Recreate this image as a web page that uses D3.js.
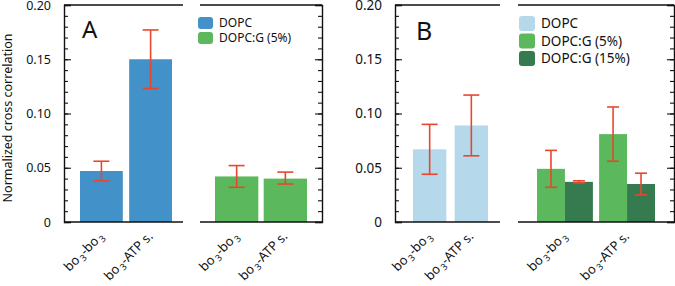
<!DOCTYPE html>
<html>
<head>
<meta charset="utf-8">
<script src="https://cdn.jsdelivr.net/npm/d3@7"></script>
<style>
  body { margin: 0; background: #fff; }
  text { font-family: "Noto Sans", "Open Sans", sans-serif; fill: #111; }
</style>
</head>
<body>
<div id="chart"></div>
<script>
// data
var categories = ["bo3-bo3", "bo3-ATP s."];
var yTicks = [0, 0.05, 0.10, 0.15, 0.20];
var yTickLabels = ["0", "0.05", "0.10", "0.15", "0.20"];

// panel A
var aDopc   = [0.047, 0.150];
var aDopcLo = [0.038, 0.123];
var aDopcHi = [0.056, 0.177];
var aG5     = [0.042, 0.040];
var aG5Lo   = [0.032, 0.035];
var aG5Hi   = [0.052, 0.046];

// panel B
var bDopc   = [0.067, 0.089];
var bDopcLo = [0.044, 0.061];
var bDopcHi = [0.090, 0.117];
var bG5     = [0.049, 0.081];
var bG5Lo   = [0.032, 0.056];
var bG5Hi   = [0.066, 0.106];
var bG15    = [0.037, 0.035];
var bG15Lo  = [0.036, 0.025];
var bG15Hi  = [0.038, 0.045];

var legendA = ["DOPC", "DOPC:G (5%)"];
var legendB = ["DOPC", "DOPC:G (5%)", "DOPC:G (15%)"];

var cBlue = "#4391c9", cGreen = "#5cb85c", cLight = "#b5d8ea", cDark = "#367a50", cErr = "#e8472e";

var w = 675, h = 286;
var svg = d3.select("#chart").append("svg")
    .attr("width", w)
    .attr("height", h);

var y = d3.scaleLinear().domain([0, 0.2]).range([222, 5]);
var minor = d3.range(0, 0.2001, 0.01);

function subText(sel, str, fs) {
    // the "3" after "bo" is a subscript
    var parts = str.split(/(3)/);
    parts.forEach(function(p) {
        if (p == "") return;
        if (p == "3") {
            sel.append("tspan").attr("dx", 1.5).attr("dy", 3).style("font-size", (fs * 0.72) + "px").text("3");
            sel.append("tspan").attr("dy", -3).text("\u200b");
        } else {
            sel.append("tspan").text(p);
        }
    });
}

// frame pieces of a sub panel
function frame(x0, x1, opts) {
    var g = svg.append("g");
    g.append("line").attr("x1", x0).attr("x2", x1).attr("y1", y(0)).attr("y2", y(0))
        .attr("stroke", "#111").attr("stroke-width", 1.4);
    g.append("line").attr("x1", x0).attr("x2", x1).attr("y1", y(0.2)).attr("y2", y(0.2))
        .attr("stroke", "#111").attr("stroke-width", 1.4);
    if (opts.left) {
        var ax = g.append("g").attr("transform", "translate(" + x0 + ",0)")
            .call(d3.axisLeft(y).tickValues(yTicks).tickSize(-7).tickPadding(13)
                .tickFormat(function(d, i) { return yTickLabels[i]; }));
        ax.selectAll("text").style("font-size", opts.fs + "px").attr("fill", "#111");
        g.append("g").attr("transform", "translate(" + x0 + ",0)")
            .call(d3.axisLeft(y).tickValues(minor).tickSize(-4).tickFormat(""))
            .select(".domain").remove();
    }
    if (opts.right) {
        g.append("g").attr("transform", "translate(" + x1 + ",0)")
            .call(d3.axisRight(y).tickValues(yTicks).tickSize(-7).tickFormat(""));
        g.append("g").attr("transform", "translate(" + x1 + ",0)")
            .call(d3.axisRight(y).tickValues(minor).tickSize(-4).tickFormat(""))
            .select(".domain").remove();
    }
    g.selectAll(".domain").attr("stroke", "#111").attr("stroke-width", 1.4);
    g.selectAll(".tick line").attr("stroke", "#111").attr("stroke-width", 1.1);
    return g;
}

function errBar(cx, lo, hi, cap) {
    var g = svg.append("g").attr("stroke", cErr).attr("stroke-width", 1.6);
    g.append("line").attr("x1", cx).attr("x2", cx).attr("y1", y(lo)).attr("y2", y(hi));
    g.append("line").attr("x1", cx - cap).attr("x2", cx + cap).attr("y1", y(lo)).attr("y2", y(lo));
    g.append("line").attr("x1", cx - cap).attr("x2", cx + cap).attr("y1", y(hi)).attr("y2", y(hi));
}

function catLabels(x, fs) {
    categories.forEach(function(c) {
        var cx = x(c) + x.bandwidth() / 2;
        var t = svg.append("g")
            .attr("transform", "translate(" + (cx + 3) + ",237) rotate(-45)")
            .append("text")
            .attr("text-anchor", "end")
            .style("font-size", fs + "px");
        subText(t, c, fs);
    });
}

function simpleBars(x, vals, lo, hi, color) {
    categories.forEach(function(c, i) {
        svg.append("rect")
            .attr("x", x(c)).attr("width", x.bandwidth())
            .attr("y", y(vals[i])).attr("height", y(0) - y(vals[i]))
            .attr("fill", color);
    });
    categories.forEach(function(c, i) {
        errBar(x(c) + x.bandwidth() / 2, lo[i], hi[i], 8);
    });
}

function legend(x0, y0, step, sw, shh, fs, names, colors) {
    names.forEach(function(n, i) {
        svg.append("rect").attr("x", x0).attr("y", y0 + i * step)
            .attr("width", sw).attr("height", shh).attr("rx", 3)
            .attr("fill", colors[i]);
        svg.append("text").attr("x", x0 + sw + 6).attr("y", y0 + i * step + shh / 2)
            .attr("dy", "0.36em").style("font-size", fs + "px").text(n);
    });
}

// ---- Panel A
var xA1 = d3.scaleBand().domain(categories).range([80, 172]).paddingInner(0.13);
var xA2 = d3.scaleBand().domain(categories).range([215, 307]).paddingInner(0.11);
simpleBars(xA1, aDopc, aDopcLo, aDopcHi, cBlue);
simpleBars(xA2, aG5, aG5Lo, aG5Hi, cGreen);
frame(64, 183, {left: true, fs: 12.5});
frame(200, 322, {right: true});
catLabels(xA1, 13);
catLabels(xA2, 13);
legend(198, 17, 15, 15, 12, 12, legendA, [cBlue, cGreen]);
svg.append("text").attr("x", 82).attr("y", 38).style("font-size", "24px").text("A");

svg.append("text")
    .attr("transform", "translate(12,118) rotate(-90)")
    .attr("text-anchor", "middle")
    .style("font-size", "12.5px")
    .text("Normalized cross correlation");

// ---- Panel B
var xB1 = d3.scaleBand().domain(categories).range([413, 488]).paddingInner(0.2);
var xB2 = d3.scaleBand().domain(categories).range([537, 655]).paddingInner(0.1);
var sub = d3.scaleBand().domain(["g5", "g15"]).range([0, xB2.bandwidth()]);
simpleBars(xB1, bDopc, bDopcLo, bDopcHi, cLight);

categories.forEach(function(c, i) {
    svg.append("rect").attr("x", xB2(c) + sub("g5")).attr("width", sub.bandwidth())
        .attr("y", y(bG5[i])).attr("height", y(0) - y(bG5[i])).attr("fill", cGreen);
    svg.append("rect").attr("x", xB2(c) + sub("g15")).attr("width", sub.bandwidth())
        .attr("y", y(bG15[i])).attr("height", y(0) - y(bG15[i])).attr("fill", cDark);
});
categories.forEach(function(c, i) {
    errBar(xB2(c) + sub("g5") + sub.bandwidth() / 2, bG5Lo[i], bG5Hi[i], 6);
    errBar(xB2(c) + sub("g15") + sub.bandwidth() / 2, bG15Lo[i], bG15Hi[i], 6);
});

frame(395, 500, {left: true, fs: 13.5});
frame(518, 674, {right: true});
catLabels(xB1, 13);
catLabels(xB2, 13);
legend(519, 16, 17.5, 16, 15, 13.5, legendB, [cLight, cGreen, cDark]);
svg.append("text").attr("x", 416).attr("y", 40).style("font-size", "25px").text("B");
</script>
</body>
</html>
